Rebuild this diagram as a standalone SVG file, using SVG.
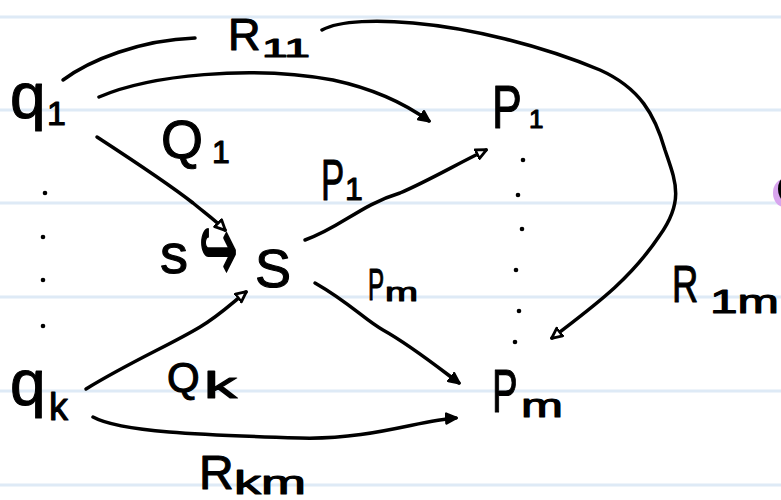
<svg xmlns="http://www.w3.org/2000/svg" width="781" height="500" viewBox="0 0 781 500">
<style>
.t{font-family:"Liberation Sans","DejaVu Sans",sans-serif;fill:#000;stroke:#000;stroke-width:1.1;stroke-linejoin:round}
.e{fill:none;stroke:#000;stroke-width:3.5;stroke-linecap:round;stroke-linejoin:round}
.rule{stroke:#deeaf6;stroke-width:3}
.dot{fill:#000}
</style>
<defs>
<marker id="open" viewBox="0 0 12 12" refX="10" refY="6" markerWidth="13" markerHeight="13" markerUnits="userSpaceOnUse" orient="auto">
<path d="M1,1.5 L10.5,6 L1,10.5 z" fill="#fff" stroke="#000" stroke-width="2.6" stroke-linejoin="round"/>
</marker>
<marker id="fill" viewBox="0 0 12 12" refX="10" refY="6" markerWidth="13" markerHeight="13" markerUnits="userSpaceOnUse" orient="auto">
<path d="M1,1.5 L10.5,6 L1,10.5 z" fill="#000" stroke="#000" stroke-width="2.4" stroke-linejoin="round"/>
</marker>
</defs>
<rect width="781" height="500" fill="#fff"/>
<g id="paper">
<line class="rule" x1="0" y1="17" x2="781" y2="17"/>
<line class="rule" x1="0" y1="110" x2="781" y2="110"/>
<line class="rule" x1="0" y1="203" x2="781" y2="203"/>
<line class="rule" x1="0" y1="297" x2="781" y2="297"/>
<line class="rule" x1="0" y1="391" x2="781" y2="391"/>
<line class="rule" x1="0" y1="485" x2="781" y2="485"/>
<ellipse cx="784" cy="193" rx="11" ry="14" fill="#d8a4ee"/>
<ellipse cx="784" cy="189" rx="6" ry="11" fill="#000"/>
</g>
<g id="connectors">
<path class="e" d="M63,80 C90,60 140,40 195,38"/>
<path class="e" d="M322,30 C340,20 380,20 413,23 C470,28 540,45 600,70 C640,88 655,115 665,150 C675,180 685,200 660,235 C630,280 595,305 552,338" marker-end="url(#open)"/>
<path class="e" d="M99,97 C150,75 250,65 333,80 C370,88 400,100 429,121" marker-end="url(#fill)"/>
<path class="e" d="M97,137 C140,165 170,185 193,203 C205,213 215,220 225,230" marker-end="url(#open)"/>
<path class="e" d="M305,240 C340,228 360,205 400,193 C430,180 455,165 486,150" marker-end="url(#open)"/>
<path class="e" d="M86,389 C130,362 170,345 200,327 C220,315 232,303 246,292" marker-end="url(#open)"/>
<path class="e" d="M315,283 C350,303 365,320 383,330 C410,345 435,365 459,383" marker-end="url(#fill)"/>
<path class="e" d="M93,417 C120,432 200,435 300,438 C370,440 420,420 456,418" marker-end="url(#fill)"/>
</g>
<g id="edge-labels">
<g id="label-R11"><text class="t" x="228" y="50" font-size="45">R</text><text class="t" x="262" y="57" font-size="26" textLength="48" lengthAdjust="spacingAndGlyphs">11</text></g>
<g id="label-Q1"><text class="t" x="161" y="158" font-size="54">Q</text><text class="t" x="212" y="163" font-size="32">1</text></g>
<g id="label-p1"><text class="t" transform="translate(321,200) scale(0.6,1)" font-size="58">P</text><text class="t" x="345" y="200" font-size="32">1</text></g>
<g id="label-pm"><text class="t" transform="translate(368,300) scale(0.55,1)" font-size="44">P</text><text class="t" x="385" y="301" font-size="26" textLength="33" lengthAdjust="spacingAndGlyphs">m</text></g>
<g id="label-Qk"><text class="t" x="167" y="392" font-size="42">Q</text><text class="t" x="204" y="398" font-size="36" textLength="33" lengthAdjust="spacingAndGlyphs">k</text></g>
<g id="label-Rkm"><text class="t" x="199" y="489" font-size="48">R</text><text class="t" x="234" y="494" font-size="34" textLength="72" lengthAdjust="spacingAndGlyphs">km</text></g>
<g id="label-R1m"><text class="t" transform="translate(672,302) scale(0.7,1)" font-size="52">R</text><text class="t" x="710" y="313" font-size="34" textLength="69" lengthAdjust="spacingAndGlyphs">1m</text></g>
</g>
<g id="node-q1"><text class="t" x="10" y="118" font-size="64">q</text><text class="t" x="47" y="125" font-size="34">1</text></g>
<g id="node-qk"><text class="t" x="10" y="405" font-size="64">q</text><text class="t" x="49" y="420" font-size="38">k</text></g>
<g id="node-S"><text class="t" x="160" y="273" font-size="56">s</text><text class="t" transform="translate(199,281) scale(1,2)" font-family="DejaVu Sans" font-size="46">↪</text><text class="t" x="255" y="287" font-size="54">S</text></g>
<g id="node-P1"><text class="t" transform="translate(492,128) scale(0.72,1)" font-size="62">P</text><text class="t" x="529" y="128" font-size="26">1</text></g>
<g id="node-Pm"><text class="t" transform="translate(492,412) scale(0.62,1)" font-size="62">P</text><text class="t" x="521" y="417" font-size="34" textLength="42" lengthAdjust="spacingAndGlyphs">m</text></g>
<g id="dots">
<circle class="dot" cx="45" cy="193" r="2.3"/><circle class="dot" cx="43" cy="237" r="2.3"/><circle class="dot" cx="43" cy="280" r="2.3"/><circle class="dot" cx="43" cy="326" r="2.3"/>
<circle class="dot" cx="523" cy="160" r="2.3"/><circle class="dot" cx="518" cy="195" r="2.3"/><circle class="dot" cx="522" cy="229" r="2.3"/><circle class="dot" cx="516" cy="270" r="2.3"/><circle class="dot" cx="519" cy="311" r="2.3"/><circle class="dot" cx="515" cy="342" r="2.3"/>
</g>
</svg>
